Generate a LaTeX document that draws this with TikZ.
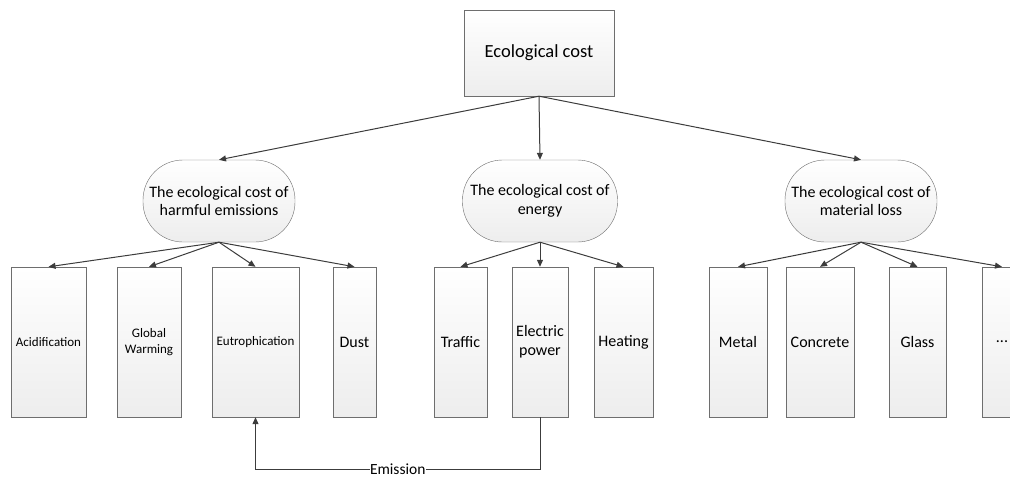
\documentclass[tikz,border=0pt]{standalone}
\usepackage{fontspec}
\setmainfont{Carlito}
\usetikzlibrary{arrows.meta}
\definecolor{edgegray}{RGB}{110,110,110}
\definecolor{linegray}{RGB}{60,60,60}

\begin{document}
\begin{tikzpicture}[x=1pt,y=-1pt,
    every node/.style={align=center, text=black, font=\fontsize{16}{19}\selectfont},
    shade/.style={draw=edgegray, top color=white, bottom color=gray!14, inner sep=0pt},
    topbox/.style={shade, minimum width=150pt, minimum height=86pt, font=\fontsize{18.5}{22}\selectfont},
    group/.style={shade, minimum width=#1, minimum height=82pt, rounded corners=40pt, font=\fontsize{16}{18.5}\selectfont},
    leaf/.style={shade, minimum width=#1, minimum height=150pt},
    small/.style={font=\fontsize{13}{16}\selectfont},
    link/.style={draw=linegray, line width=1pt, -{Triangle[length=7pt,width=6pt]}}]
    \useasboundingbox (0,0) rectangle (1010,477);
    \clip (0,0) rectangle (1010,477);
    % root
    \node[topbox] (eco) at (539,53) {Ecological cost};
    % second level
    \node[group=152pt] (harm) at (219,201) {The ecological cost of\\harmful emissions};
    \node[group=155pt] (energy) at (540,201) {The ecological cost of\\energy};
    \node[group=152pt] (mat) at (861,201) {The ecological cost of\\material loss};
    % leaves
    \node[leaf=75pt, small] (acid) at (48.5,342) {Acidification};
    \node[leaf=64pt, small] (warm) at (149,342) {Global\\Warming};
    \node[leaf=87pt, small] (eutro) at (255.5,342) {Eutrophication};
    \node[leaf=43pt] (dust) at (354.5,342) {Dust};
    \node[leaf=53pt] (traffic) at (460.5,342) {Traffic};
    \node[leaf=56pt] (power) at (540,342) {Electric\\power};
    \node[leaf=59pt] (heat) at (623.5,342) {Heating};
    \node[leaf=58pt] (metal) at (738,342) {Metal};
    \node[leaf=68pt] (concrete) at (820,342) {Concrete};
    \node[leaf=57pt] (glass) at (917.5,342) {Glass};
    \node[leaf=40pt] (more) at (1002,342) {...};
    % connectors
    \foreach \g in {harm,energy,mat}
      \draw[link] (eco.south) -- (\g.north);
    \foreach \l in {acid,warm,eutro,dust}
      \draw[link] (harm.south) -- (\l.north);
    \foreach \l in {traffic,power,heat}
      \draw[link] (energy.south) -- (\l.north);
    \foreach \l in {metal,concrete,glass,more}
      \draw[link] (mat.south) -- (\l.north);
    \draw[link] (power.south) -- ++(0,52) -| node[pos=0.25, fill=white, inner sep=0.5pt, font=\fontsize{15.5}{18}\selectfont]{Emission} (eutro.south);
\end{tikzpicture}
\end{document}
